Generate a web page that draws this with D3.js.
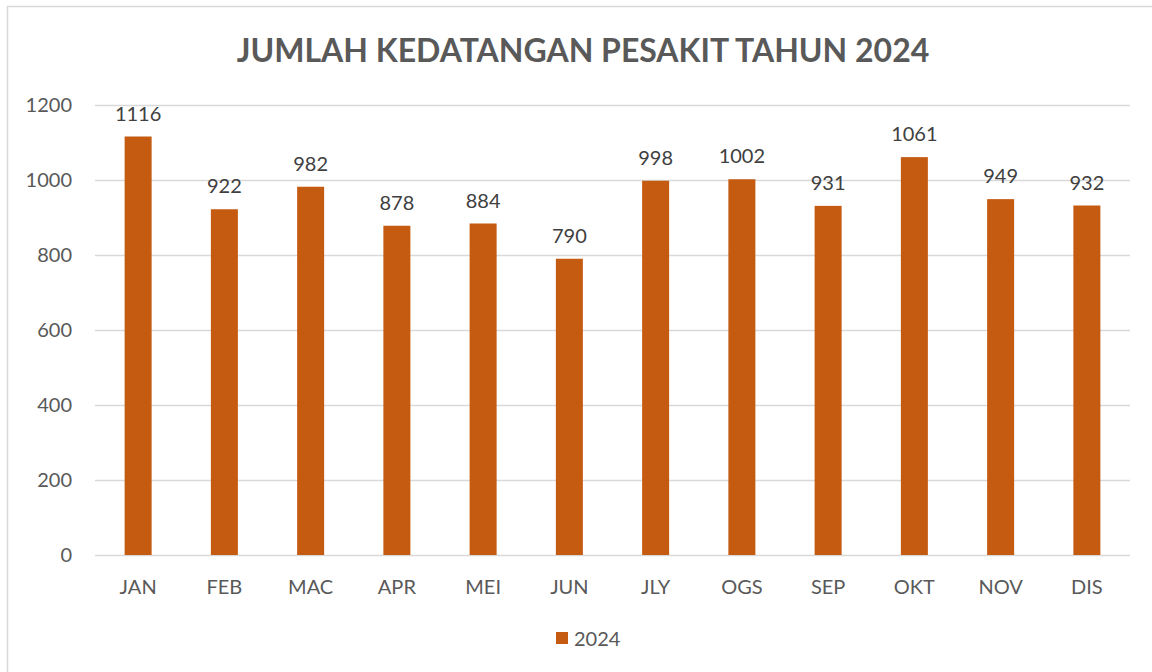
<!DOCTYPE html>
<html><head><meta charset="utf-8">
<script src="https://cdn.jsdelivr.net/npm/d3@7"></script>
<style>body{margin:0;background:#fff;} svg{display:block;font-family:Lato, "Open Sans", sans-serif;}</style>
</head><body>
<svg id="c" width="1152" height="672"></svg>
<script>
const categories = ["JAN","FEB","MAC","APR","MEI","JUN","JLY","OGS","SEP","OKT","NOV","DIS"];
const values2024 = [1116,922,982,878,884,790,998,1002,931,1061,949,932];
const yTicks = [0,200,400,600,800,1000,1200];
const seriesName = "2024";
const title = "JUMLAH KEDATANGAN PESAKIT TAHUN 2024";

(function(){
const svg = d3.select("#c");
svg.append("rect").attr("x",7.5).attr("y",6.5).attr("width",1160).attr("height",700)
  .attr("fill","#fff").attr("stroke","#d9d9d9").attr("stroke-width",1.5);

const pL=95, pR=1130, pT=105, pB=555;
const x = d3.scaleBand().domain(categories).range([pL,pR]).paddingInner(0.687).paddingOuter(0.3435);
const y = d3.scaleLinear().domain([0,1200]).range([pB,pT]);

svg.append("g").selectAll("line").data(yTicks).join("line")
  .attr("x1",pL).attr("x2",pR).attr("y1",d=>y(d)+0.5).attr("y2",d=>y(d)+0.5)
  .attr("stroke","#d9d9d9").attr("stroke-width",1.3);

const yAxis = svg.append("g").attr("transform",`translate(${pL},0)`)
  .call(d3.axisLeft(y).tickValues(yTicks).tickSize(0).tickPadding(23).tickFormat(d3.format("d")));
yAxis.select(".domain").remove();
yAxis.selectAll("text").attr("font-size",20).attr("fill","#595959").attr("font-family","Lato, sans-serif");

const xAxis = svg.append("g").attr("transform",`translate(0,${pB})`)
  .call(d3.axisBottom(x).tickSize(0).tickPadding(25));
xAxis.select(".domain").remove();
xAxis.selectAll("text").attr("font-size",20).attr("fill","#595959").attr("font-family","Lato, sans-serif");

svg.append("g").selectAll("rect").data(categories).join("rect")
  .attr("x",d=>x(d)).attr("width",x.bandwidth())
  .attr("y",(d,i)=>y(values2024[i])).attr("height",(d,i)=>y(0)-y(values2024[i]))
  .attr("fill","#C55A11");

svg.append("g").selectAll("text").data(categories).join("text")
  .attr("x",d=>x(d)+x.bandwidth()/2).attr("y",(d,i)=>y(values2024[i])-16)
  .attr("text-anchor","middle").attr("font-size",20).attr("fill","#404040")
  .text((d,i)=>values2024[i]);

svg.append("text").attr("x",583).attr("y",62).attr("text-anchor","middle")
  .attr("font-size",32).attr("font-weight","bold").attr("fill","#595959").text(title);

svg.append("rect").attr("x",556).attr("y",632).attr("width",12).attr("height",12).attr("fill","#C55A11");
svg.append("text").attr("x",574).attr("y",646).attr("font-size",20).attr("fill","#595959").text(seriesName);
})();
</script>
</body></html>
